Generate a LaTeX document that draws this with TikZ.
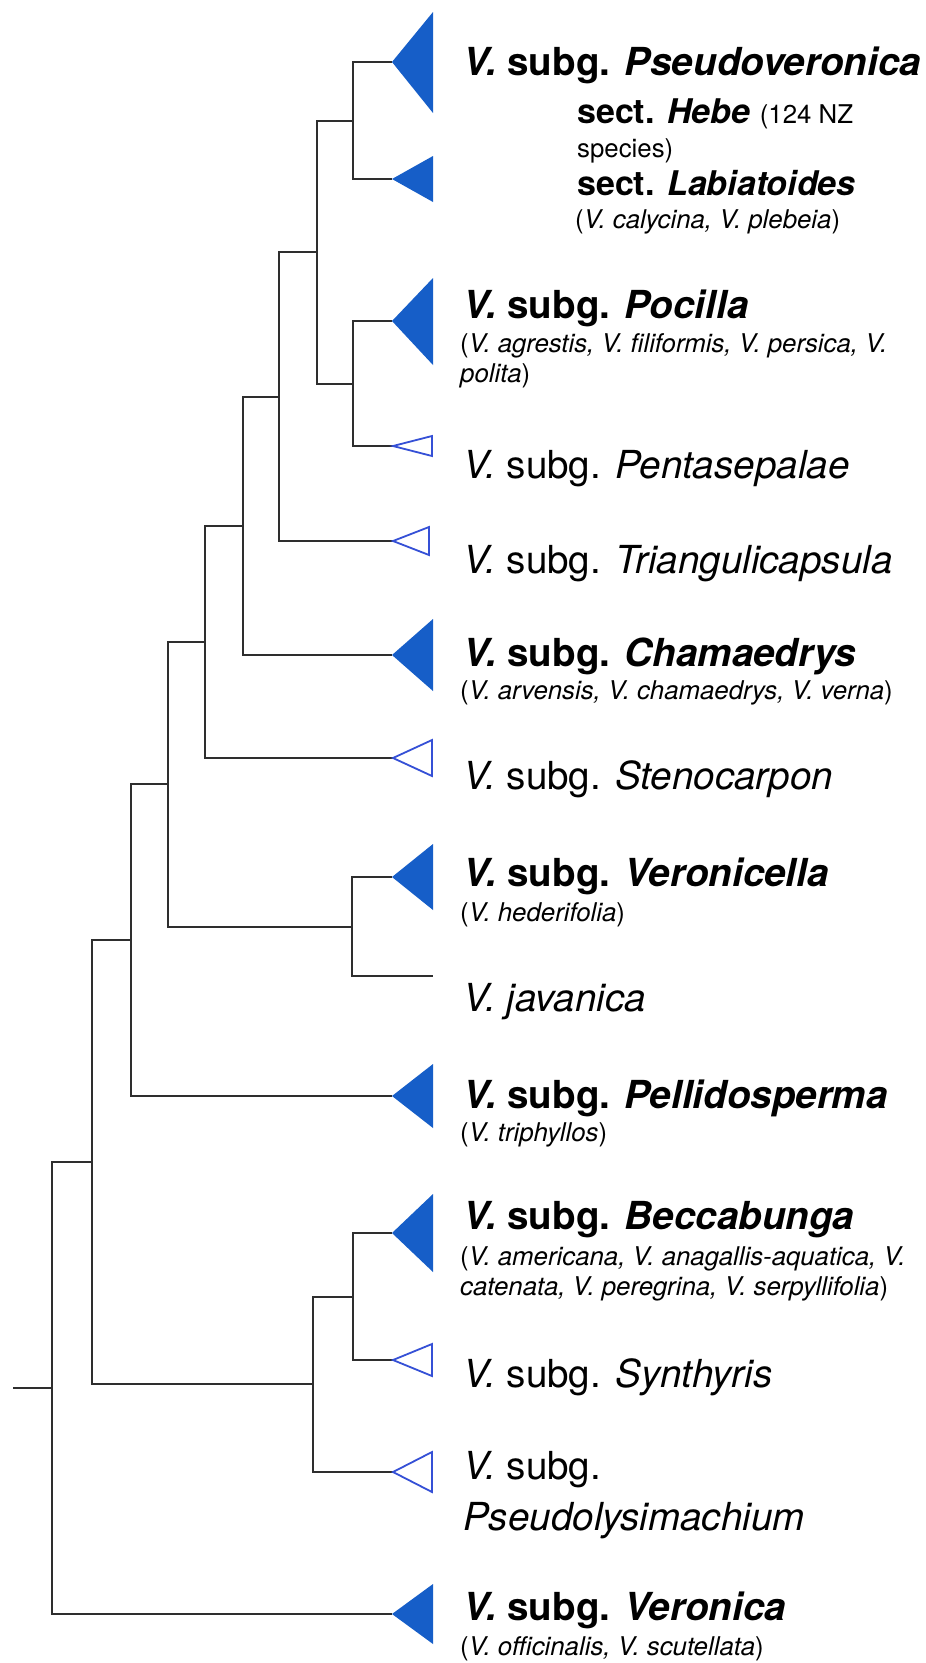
\documentclass[tikz,border=0pt]{standalone}
\usepackage{fontspec}
\setmainfont{TeX Gyre Heros}
\usepackage{xcolor}
\usepackage{tikz}

\definecolor{cladeblue}{HTML}{165EC8}
\definecolor{openblue}{HTML}{3550D6}
\definecolor{branchgray}{HTML}{2E2E2E}

\begin{document}
\begin{tikzpicture}[
  x=1pt, y=-1pt,
  branch/.style={draw=branchgray, line width=2pt},
  fullclade/.style={fill=cladeblue},
  openclade/.style={draw=openblue, line width=1.8pt, fill=white},
  boldhead/.style={anchor=base west, inner sep=0pt, font=\fontsize{38.6}{44}\selectfont\bfseries},
  lighthead/.style={anchor=base west, inner sep=0pt, font=\fontsize{38.6}{44}\selectfont},
  secttext/.style={anchor=base west, inner sep=0pt, font=\fontsize{34}{40}\selectfont\bfseries},
  notetext/.style={anchor=base west, inner sep=0pt, font=\fontsize{25.8}{30}\selectfont}
]
\useasboundingbox (0,0) rectangle (926,1663);

% tips of the tree
\coordinate (pseudo) at (392,62);
\coordinate (labia) at (392,179);
\coordinate (pocilla) at (392,321);
\coordinate (penta) at (393,446);
\coordinate (triang) at (393,541);
\coordinate (chamae) at (392,655);
\coordinate (steno) at (393,758);
\coordinate (veronic) at (392,877);
\coordinate (javan) at (433,976);
\coordinate (pellid) at (392,1096);
\coordinate (becca) at (392,1233);
\coordinate (synth) at (393,1360);
\coordinate (pseudol) at (393,1472);
\coordinate (veron) at (392,1614);

% inner nodes
\coordinate (nA) at (353,120.5);
\coordinate (nB) at (353,383.5);
\coordinate (nC) at (317,252);
\coordinate (nD) at (279,396.5);
\coordinate (nE) at (243,525.8);
\coordinate (nF) at (205,641.9);
\coordinate (nVJ) at (352,926.5);
\coordinate (nG) at (168,784.2);
\coordinate (nH) at (131,940.1);
\coordinate (nL) at (353,1296.5);
\coordinate (nK) at (313,1384.3);
\coordinate (nI) at (92,1162.2);
\coordinate (nJ) at (52,1388.1);
\coordinate (root) at (13,1388.1);

% branches
\draw[branch] (root) -- (nJ);
\draw[branch] (nJ) |- (nI) (nJ) |- (veron);
\draw[branch] (nI) |- (nH) (nI) |- (nK);
\draw[branch] (nK) |- (nL) (nK) |- (pseudol);
\draw[branch] (nL) |- (becca) (nL) |- (synth);
\draw[branch] (nH) |- (nG) (nH) |- (pellid);
\draw[branch] (nG) |- (nF) (nG) |- (nVJ);
\draw[branch] (nVJ) |- (veronic) (nVJ) |- (javan);
\draw[branch] (nF) |- (nE) (nF) |- (steno);
\draw[branch] (nE) |- (nD) (nE) |- (chamae);
\draw[branch] (nD) |- (nC) (nD) |- (triang);
\draw[branch] (nC) |- (nA) (nC) |- (nB);
\draw[branch] (nA) |- (pseudo) (nA) |- (labia);
\draw[branch] (nB) |- (pocilla) (nB) |- (penta);

% collapsed clades
\fill[fullclade] (pseudo) -- ++(41,-50) -- ++(0,101) -- cycle;
\fill[fullclade] (labia) -- ++(41,-23) -- ++(0,46) -- cycle;
\fill[fullclade] (pocilla) -- ++(41,-43) -- ++(0,87) -- cycle;
\draw[openclade] (penta) -- ++(39,-10) -- ++(0,20) -- cycle;
\draw[openclade] (triang) -- ++(36,-14) -- ++(0,28) -- cycle;
\fill[fullclade] (chamae) -- ++(41,-36) -- ++(0,72) -- cycle;
\draw[openclade] (steno) -- ++(39,-18) -- ++(0,36) -- cycle;
\fill[fullclade] (veronic) -- ++(41,-33) -- ++(0,66) -- cycle;
\fill[fullclade] (pellid) -- ++(41,-32) -- ++(0,64) -- cycle;
\fill[fullclade] (becca) -- ++(41,-39) -- ++(0,78) -- cycle;
\draw[openclade] (synth) -- ++(39,-16) -- ++(0,32) -- cycle;
\draw[openclade] (pseudol) -- ++(39,-20) -- ++(0,40) -- cycle;
\fill[fullclade] (veron) -- ++(41,-30) -- ++(0,60) -- cycle;

% labels
\node[boldhead] (lpseudo) at (463,75) {\textit{V.} subg. \textit{Pseudoveronica}};
\node[secttext] (lhebe) at (577,123) {sect. \textit{Hebe} {\mdseries\fontsize{25.8}{30}\selectfont (124 NZ}};
\node[notetext] (lhebe2) at (577,157) {species)};
\node[secttext] (llabia) at (577,195) {sect. \textit{Labiatoides}};
\node[notetext] (llabia2) at (575,228) {(\textit{V. calycina, V. plebeia})};
\node[boldhead] (lpocilla) at (463,318) {\textit{V.} subg. \textit{Pocilla}};
\node[notetext] (lpocilla2) at (460,352) {(\textit{V. agrestis, V. filiformis, V. persica, V.}};
\node[notetext] (lpocilla3) at (460,382) {\textit{polita})};
\node[lighthead] (lpenta) at (463,478) {\textit{V.} subg. \textit{Pentasepalae}};
\node[lighthead] (ltriang) at (463,573) {\textit{V.} subg. \textit{Triangulicapsula}};
\node[boldhead] (lchamae) at (463,666) {\textit{V.} subg. \textit{Chamaedrys}};
\node[notetext] (lchamae2) at (460,699) {(\textit{V. arvensis, V. chamaedrys, V. verna})};
\node[lighthead] (lsteno) at (463,789) {\textit{V.} subg. \textit{Stenocarpon}};
\node[boldhead] (lveronic) at (463,886) {\textit{V.} subg. \textit{Veronicella}};
\node[notetext] (lveronic2) at (460,921) {(\textit{V. hederifolia})};
\node[lighthead] (ljavan) at (463,1011) {\textit{V. javanica}};
\node[boldhead] (lpellid) at (463,1108) {\textit{V.} subg. \textit{Pellidosperma}};
\node[notetext] (lpellid2) at (460,1141) {(\textit{V. triphyllos})};
\node[boldhead] (lbecca) at (463,1229) {\textit{V.} subg. \textit{Beccabunga}};
\node[notetext] (lbecca2) at (460,1265) {(\textit{V. americana, V. anagallis-aquatica, V.}};
\node[notetext] (lbecca3) at (460,1295) {\textit{catenata, V. peregrina, V. serpyllifolia})};
\node[lighthead] (lsynth) at (463,1387) {\textit{V.} subg. \textit{Synthyris}};
\node[lighthead] (lpseudol) at (463,1479) {\textit{V.} subg.};
\node[lighthead] (lpseudol2) at (463,1530) {\textit{Pseudolysimachium}};
\node[boldhead] (lveron) at (463,1620) {\textit{V.} subg. \textit{Veronica}};
\node[notetext] (lveron2) at (460,1655) {(\textit{V. officinalis, V. scutellata})};
\end{tikzpicture}
\end{document}
